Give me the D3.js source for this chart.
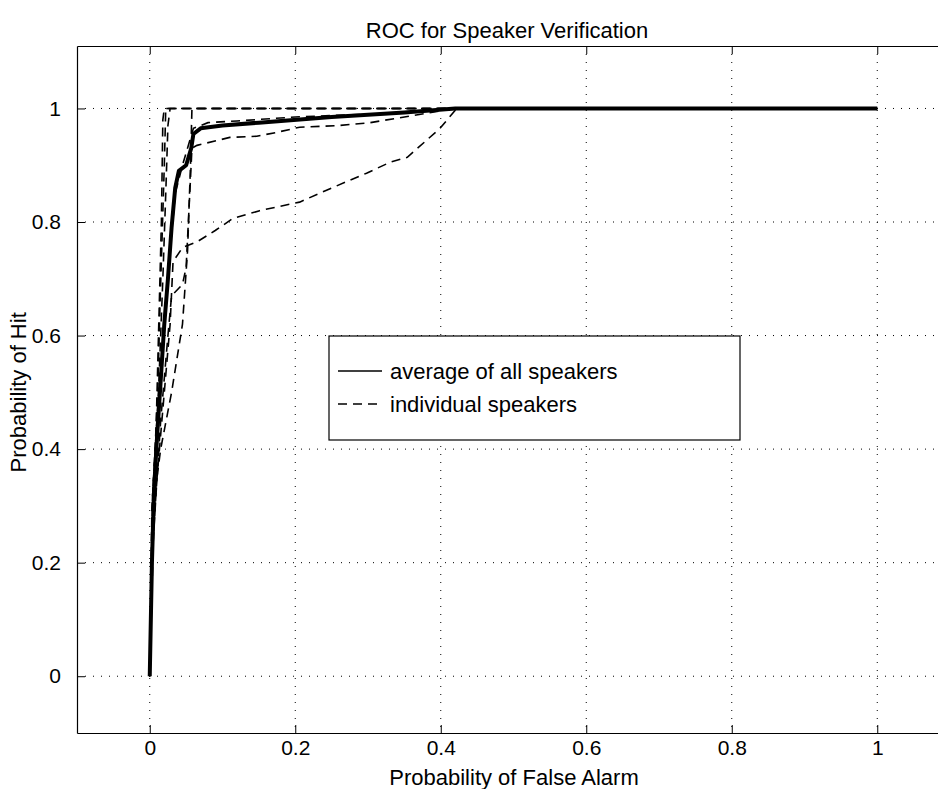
<!DOCTYPE html>
<meta charset="utf-8">
<style>
body { margin: 0; background: #fff; }
svg { font-family: "Liberation Sans", Arial, sans-serif; }
.grid line { stroke: #000; stroke-width: 1; stroke-dasharray: 1,7; }
.avg { fill: none; stroke: #000; stroke-width: 4px; stroke-linejoin: round; }
.ind { fill: none; stroke: #000; stroke-width: 1.6px; stroke-dasharray: 9,6; }
</style>
<svg id="roc" width="938" height="789"></svg>
<script src="https://cdn.jsdelivr.net/npm/d3@7"></script>
<script>
var xTicks = [0, 0.2, 0.4, 0.6, 0.8, 1];
var yTicks = [0, 0.2, 0.4, 0.6, 0.8, 1];

// average of all speakers [false alarm, hit]
var average = [[0,0],[0.003,0.2],[0.006,0.33],[0.01,0.42],[0.015,0.52],[0.02,0.62],[0.025,0.70],
  [0.03,0.79],[0.035,0.86],[0.04,0.89],[0.05,0.9],[0.057,0.93],[0.06,0.955],[0.07,0.965],
  [0.1,0.97],[0.15,0.975],[0.25,0.985],[0.35,0.993],[0.42,1.0],[1,1]];

// individual speakers
var spkA = [[0,0],[0.003,0.2],[0.01,0.35],[0.02,0.5],[0.028,0.62],[0.032,0.73],[0.045,0.755],
  [0.065,0.765],[0.09,0.785],[0.114,0.806],[0.151,0.82],[0.206,0.835],[0.243,0.856],
  [0.298,0.886],[0.33,0.905],[0.354,0.914],[0.399,0.965],[0.422,1.0],[1,1]];
var spkB = [[0,0],[0.005,0.25],[0.015,0.45],[0.025,0.6],[0.03,0.67],[0.045,0.69],[0.05,0.72],
  [0.055,0.85],[0.058,0.93],[0.065,0.935],[0.11,0.949],[0.147,0.951],[0.175,0.958],
  [0.206,0.967],[0.261,0.97],[0.303,0.975],[0.35,0.985],[0.42,1.0],[1,1]];
var spkC = [[0,0],[0.005,0.3],[0.015,0.4],[0.03,0.5],[0.045,0.62],[0.052,0.75],[0.056,0.9],[0.058,1.0],[1,1]];
var spkD = [[0,0],[0.003,0.3],[0.008,0.4],[0.012,0.6],[0.016,0.8],[0.018,0.98],[0.02,1.0],[1,1]];
var spkE = [[0,0],[0.004,0.32],[0.012,0.5],[0.018,0.7],[0.022,0.85],[0.025,0.97],[0.028,1.0],[1,1]];
var spkF = [[0,0],[0.006,0.35],[0.016,0.55],[0.026,0.72],[0.035,0.85],[0.045,0.9],[0.06,0.965],
  [0.08,0.975],[0.12,0.978],[0.2,0.985],[0.3,0.99],[0.42,1],[1,1]];
var spkG = [[0,0],[0.005,0.34],[0.011,0.5],[0.014,0.65],[0.02,0.9],[0.022,1.0],[1,1]];
var speakers = [spkA, spkB, spkC, spkD, spkE, spkF, spkG];

var svg = d3.select("#roc");
var box = {left: 77, top: 46, right: 950, bottom: 733};

var x = d3.scaleLinear().domain([-0.1, 1.1]).range([box.left, box.right]);
var y = d3.scaleLinear().domain([-0.1, 1.11]).range([box.bottom, box.top]);

var line = d3.line()
    .x(function(d) { return x(d[0]); })
    .y(function(d) { return y(d[1]); });

// dotted grid
var grid = svg.append("g").attr("class", "grid");
grid.selectAll(".gx").data(xTicks).enter().append("line")
    .attr("x1", function(d) { return x(d); }).attr("x2", function(d) { return x(d); })
    .attr("y1", box.top).attr("y2", box.bottom);
grid.selectAll(".gy").data(yTicks).enter().append("line")
    .attr("y1", function(d) { return y(d); }).attr("y2", function(d) { return y(d); })
    .attr("x1", box.left).attr("x2", box.right);

// curves
svg.append("g").selectAll("path").data(speakers).enter().append("path")
    .attr("class", "ind")
    .attr("stroke-dashoffset", function(d, i) { return i * 5; })
    .attr("d", line);
svg.append("path").datum(average).attr("class", "avg").attr("d", line);

// axes with inward ticks
svg.append("g").attr("transform", "translate(0," + box.bottom + ")")
    .call(d3.axisBottom(x).tickValues(xTicks).tickSizeInner(-8).tickSizeOuter(0).tickPadding(7)
      .tickFormat(d3.format("")));
svg.append("g").attr("transform", "translate(0," + box.top + ")")
    .call(d3.axisTop(x).tickValues(xTicks).tickSizeInner(-8).tickSizeOuter(0).tickFormat(""));
svg.append("g").attr("transform", "translate(" + box.left + ",0)")
    .call(d3.axisLeft(y).tickValues(yTicks).tickSizeInner(-8).tickSizeOuter(0).tickPadding(16)
      .tickFormat(d3.format("")));
svg.selectAll(".domain").attr("stroke-width", 1.2);
svg.selectAll(".tick text").attr("font-size", 21).attr("fill", "#000")
    .attr("font-family", "Liberation Sans, Arial, sans-serif");

// titles
svg.append("text").attr("x", 507).attr("y", 38).attr("text-anchor", "middle")
    .attr("font-size", 22).text("ROC for Speaker Verification");
svg.append("text").attr("x", 514).attr("y", 785).attr("text-anchor", "middle")
    .attr("font-size", 22).text("Probability of False Alarm");
svg.append("text").attr("transform", "translate(26," + y(0.5) + ") rotate(-90)")
    .attr("text-anchor", "middle").attr("font-size", 22).text("Probability of Hit");

// legend
var lg = svg.append("g").attr("transform", "translate(329,336)");
lg.append("rect").attr("width", 411).attr("height", 104)
    .attr("fill", "#fff").attr("stroke", "#000").attr("stroke-width", 1.2);
var legendItems = [["average of all speakers", "none"], ["individual speakers", "9,6"]];
legendItems.forEach(function(it, i) {
  var yy = 35 + i * 33;
  lg.append("line").attr("x1", 9).attr("x2", 53).attr("y1", yy).attr("y2", yy)
    .attr("stroke", "#000").attr("stroke-width", 1.3).attr("stroke-dasharray", it[1]);
  lg.append("text").attr("x", 61).attr("y", yy + 8).attr("font-size", 22).text(it[0]);
});
</script>
